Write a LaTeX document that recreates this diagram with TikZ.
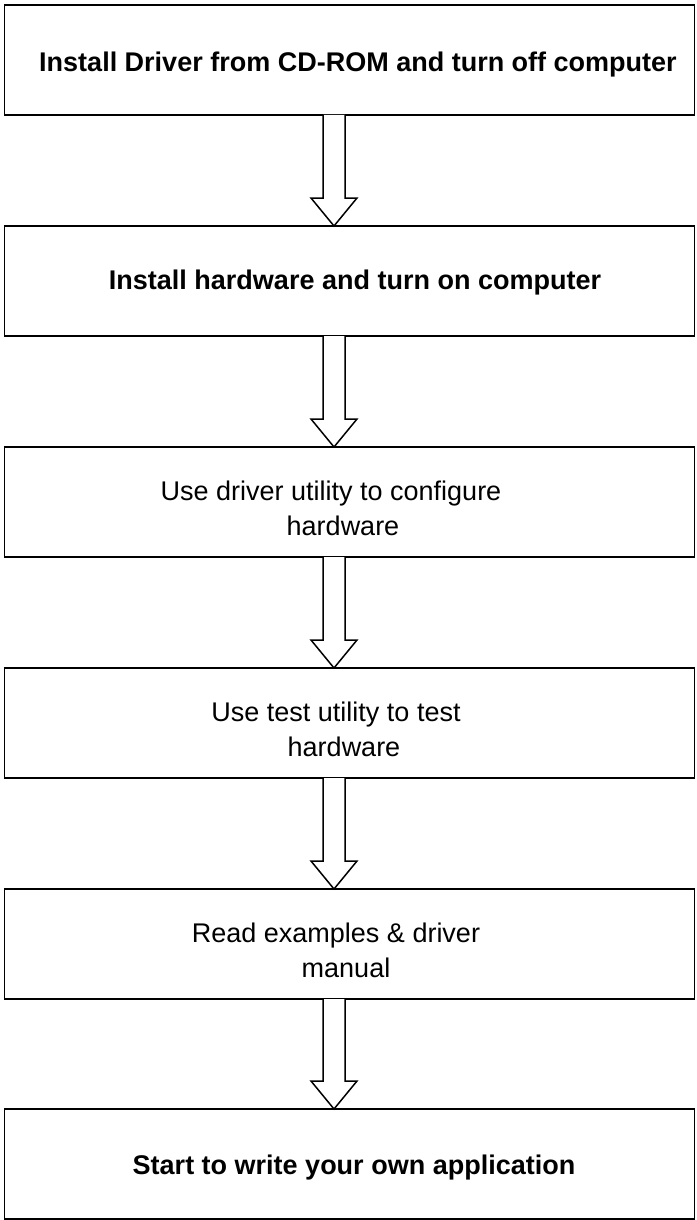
\documentclass[tikz,border=0pt]{standalone}
\usepackage{fontspec}
\setmainfont{Liberation Sans}
\usetikzlibrary{calc}
\tikzset{
  stepbox/.style={draw=black, line width=1.6pt, rectangle, minimum width=690pt, minimum height=110pt, inner sep=0pt, outer sep=0pt},
  steptext/.style={anchor=base, inner sep=0pt, outer sep=0pt, font=\fontsize{27}{34}\selectfont},
  boldtext/.style={steptext, font=\fontsize{27}{34}\selectfont\bfseries},
  hollowarrow/.style={draw=black, fill=white, line width=1.5pt, line join=miter}
}
\newcommand\flowarrow[2]{%
  \draw[hollowarrow] ($(#1.south)+(-26.5,0)$) -- ($(#2.north)+(-26.5,-28)$)
    -- ($(#2.north)+(-38.5,-28)$) -- ($(#2.north)+(-15.5,0)$)
    -- ($(#2.north)+(7.5,-28)$) -- ($(#2.north)+(-4.5,-28)$)
    -- ($(#1.south)+(-4.5,0)$);}
\begin{document}
\begin{tikzpicture}[x=1pt,y=-1pt]
\useasboundingbox (0,0) rectangle (696,1220);
\node[stepbox] (b1) at (349.5,60) {};
\node[stepbox] (b2) at (349.5,281) {};
\node[stepbox] (b3) at (349.5,502) {};
\node[stepbox] (b4) at (349.5,723) {};
\node[stepbox] (b5) at (349.5,944) {};
\node[stepbox] (b6) at (349.5,1164) {};
\flowarrow{b1}{b2}
\flowarrow{b2}{b3}
\flowarrow{b3}{b4}
\flowarrow{b4}{b5}
\flowarrow{b5}{b6}
\node[boldtext] (t1) at (358,72) {Install Driver from CD-ROM and turn off computer};
\node[boldtext] (t2) at (355,289) {Install hardware and turn on computer};
\node[steptext] (t3a) at (331,500) {Use driver utility to configure};
\node[steptext] (t3b) at (343,535) {hardware};
\node[steptext] (t4a) at (336,721) {Use test utility to test};
\node[steptext] (t4b) at (344,756) {hardware};
\node[steptext] (t5a) at (336,942) {Read examples \& driver};
\node[steptext] (t5b) at (346,977) {manual};
\node[boldtext] (t6) at (354,1174) {Start to write your own application};
\end{tikzpicture}
\end{document}
